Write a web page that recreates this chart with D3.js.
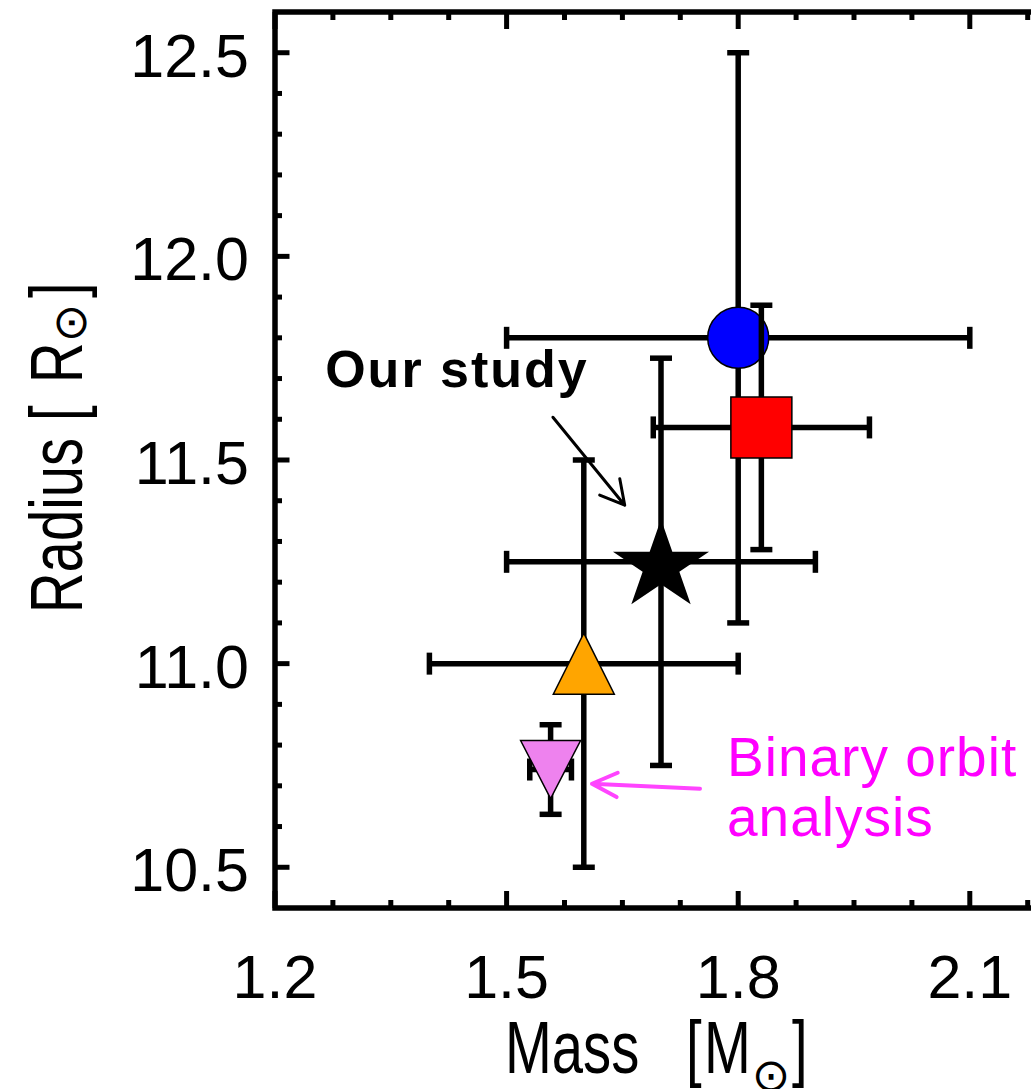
<!DOCTYPE html>
<html>
<head>
<meta charset="utf-8">
<script src="https://cdn.jsdelivr.net/npm/d3@7"></script>
<style>
  html, body { margin: 0; padding: 0; background: #fff; }
  svg { display: block; }
</style>
</head>
<body>
<svg id="chart" width="1031" height="1089"></svg>
<script>
// Mass–radius estimates with 1-sigma error bars
const mass        = [1.80, 1.83, 1.70, 1.60, 1.557];
const massErr     = [0.30, 0.14, 0.20, 0.20, 0.027];
const radius      = [11.80, 11.58, 11.25, 11.00, 10.74];
const radiusErr   = [0.70, 0.30, 0.50, 0.50, 0.11];
const symbols     = ["circle", "square", "star", "triangleUp", "triangleDown"];
const fills       = ["#0000ff", "#ff0000", "#000000", "#ffa500", "#ee82ee"];

// Axis ranges and tick values
const massDomain   = [1.2, 2.2];
const radiusDomain = [10.4, 12.6];
const massMajor    = [1.2, 1.5, 1.8, 2.1];
const massMinor    = [1.275, 1.35, 1.425, 1.575, 1.65, 1.725, 1.875, 1.95, 2.025, 2.175];
const radiusMajor  = [10.5, 11.0, 11.5, 12.0, 12.5];
const radiusMinor  = [10.6, 10.7, 10.8, 10.9, 11.1, 11.2, 11.3, 11.4, 11.6, 11.7, 11.8, 11.9, 12.1, 12.2, 12.3, 12.4];

// Annotation anchors (data units)
const studyLabel  = {text: "Our study", mass: 1.265, radius: 11.679};
const studyArrow  = {from: [1.560, 11.605], to: [1.653, 11.389]};
const orbitLabel  = {lines: ["Binary orbit", "analysis"], mass: 1.7855, radius: [10.725, 10.578]};
const orbitArrow  = {from: [1.7505, 10.693], to: [1.6106, 10.705]};

const svg = d3.select("#chart");
const plotL = 275, plotR = 1047, plotT = 12, plotB = 908;

const x = d3.scaleLinear().domain(massDomain).range([plotL, plotR]);
const y = d3.scaleLinear().domain(radiusDomain).range([plotB, plotT]);

const FONT = "'Liberation Sans', Arial, Helvetica, sans-serif";
const SYMFONT = "'DejaVu Sans', sans-serif";
const LW = 5.5;

// ---- frame and ticks ----
const axes = svg.append("g");
axes.append("rect")
  .attr("x", plotL).attr("y", plotT)
  .attr("width", plotR - plotL).attr("height", plotB - plotT)
  .attr("fill", "none").attr("stroke", "#000").attr("stroke-width", LW);

function xTicks(vals, len) {
  vals.forEach(v => {
    axes.append("line").attr("x1", x(v)).attr("x2", x(v))
      .attr("y1", plotB).attr("y2", plotB - len)
      .attr("stroke", "#000").attr("stroke-width", 5);
    axes.append("line").attr("x1", x(v)).attr("x2", x(v))
      .attr("y1", plotT).attr("y2", plotT + len)
      .attr("stroke", "#000").attr("stroke-width", 5);
  });
}
function yTicks(vals, len) {
  vals.forEach(v => {
    axes.append("line").attr("y1", y(v)).attr("y2", y(v))
      .attr("x1", plotL).attr("x2", plotL + len)
      .attr("stroke", "#000").attr("stroke-width", 5);
    axes.append("line").attr("y1", y(v)).attr("y2", y(v))
      .attr("x1", plotR).attr("x2", plotR - len)
      .attr("stroke", "#000").attr("stroke-width", 5);
  });
}
xTicks(massMajor, 17);
xTicks(massMinor, 8);
yTicks(radiusMajor, 14.5);
yTicks(radiusMinor, 7);

const fmt = d3.format(".1f");
axes.selectAll("text.xl").data(massMajor).join("text")
  .attr("class", "xl")
  .attr("x", d => x(d)).attr("y", 998)
  .attr("text-anchor", "middle")
  .attr("font-family", FONT).attr("font-size", 61)
  .text(fmt);
axes.selectAll("text.yl").data(radiusMajor).join("text")
  .attr("class", "yl")
  .attr("x", 249).attr("y", d => y(d) + 24)
  .attr("text-anchor", "end")
  .attr("font-family", FONT).attr("font-size", 61)
  .text(fmt);

// ---- axis titles (narrowed glyphs, solar symbol as subscript) ----
const TS = 74, SX = 0.76;
function titlePiece(g, str, tx, ty, rot) {
  g.append("text")
    .attr("transform", `translate(${tx},${ty})${rot ? " rotate(-90)" : ""} scale(${SX},1)`)
    .attr("font-family", FONT).attr("font-size", TS)
    .text(str);
}
function solarSymbol(g, tx, ty, rot, size) {
  g.append("text")
    .attr("transform", `translate(${tx},${ty})${rot ? " rotate(-90)" : ""}`)
    .attr("text-anchor", "middle")
    .attr("font-family", SYMFONT).attr("font-size", size)
    .text("\u2299");
}
const xt = svg.append("g");
titlePiece(xt, "Mass", 505, 1073, false);
titlePiece(xt, "[", 686, 1073, false);
titlePiece(xt, "M", 704, 1073, false);
solarSymbol(xt, 771, 1091, false, 46);
titlePiece(xt, "]", 792, 1073, false);

const yt = svg.append("g");
titlePiece(yt, "Radius", 82, 613, true);
titlePiece(yt, "[", 82, 421, true);
titlePiece(yt, "R", 82, 383, true);
solarSymbol(yt, 86, 323, true, 46);
titlePiece(yt, "]", 82, 298, true);

// ---- symbols ----
function starPath(rx, ry, inner) {
  const pts = [];
  for (let i = 0; i < 10; i++) {
    const a = -Math.PI / 2 + i * Math.PI / 5;
    const r = i % 2 === 0 ? 1 : inner;
    pts.push([rx * r * Math.cos(a), ry * r * Math.sin(a)]);
  }
  const shift = (1 - Math.cos(Math.PI / 5)) * ry / 2;
  return d3.line()(pts.map(p => [p[0], p[1] + shift])) + "Z";
}
function symbolPath(kind) {
  switch (kind) {
    case "circle": {
      const p = d3.path(); p.arc(0, 0, 30.5, 0, 2 * Math.PI); p.closePath(); return p.toString();
    }
    case "square":       return "M-30.5,-30.5H30.5V30.5H-30.5Z";
    case "star":         return starPath(50.5, 47, 0.382);
    case "triangleUp":   return "M0,-30.5L30.5,30.5L-30.5,30.5Z";
    case "triangleDown": return "M-30,-29L30,-29L0,29Z";
  }
}

const plot = svg.append("g");
const CAP = 11;
mass.forEach((m, i) => {
  const g = plot.append("g");
  const cx = x(m), cy = y(radius[i]);
  const x0 = x(m - massErr[i]), x1 = x(m + massErr[i]);
  const y0 = y(radius[i] - radiusErr[i]), y1 = y(radius[i] + radiusErr[i]);
  const seg = (a, b, c, d) => g.append("line")
    .attr("x1", a).attr("y1", b).attr("x2", c).attr("y2", d)
    .attr("stroke", "#000").attr("stroke-width", LW);
  seg(x0, cy, x1, cy);
  seg(x0, cy - CAP, x0, cy + CAP);
  seg(x1, cy - CAP, x1, cy + CAP);
  seg(cx, y0, cx, y1);
  seg(cx - CAP, y0, cx + CAP, y0);
  seg(cx - CAP, y1, cx + CAP, y1);
  g.append("path")
    .attr("d", symbolPath(symbols[i]))
    .attr("transform", `translate(${cx},${cy})`)
    .attr("fill", fills[i])
    .attr("stroke", "#000").attr("stroke-width", symbols[i] === "star" ? 0 : 1.5);
});

// ---- annotations ----
function arrow(sel, from, to, color, width, armLen, armAng) {
  const fx = x(from[0]), fy = y(from[1]), tx = x(to[0]), ty = y(to[1]);
  const ang = Math.atan2(fy - ty, fx - tx);
  const a1 = [tx + armLen * Math.cos(ang + armAng), ty + armLen * Math.sin(ang + armAng)];
  const a2 = [tx + armLen * Math.cos(ang - armAng), ty + armLen * Math.sin(ang - armAng)];
  sel.append("path")
    .attr("d", `M${fx},${fy}L${tx},${ty}M${a1[0]},${a1[1]}L${tx},${ty}L${a2[0]},${a2[1]}`)
    .attr("fill", "none").attr("stroke", color).attr("stroke-width", width)
    .attr("stroke-linecap", "round").attr("stroke-linejoin", "round");
}

const ann = svg.append("g");
ann.append("text")
  .attr("x", x(studyLabel.mass)).attr("y", y(studyLabel.radius))
  .attr("font-family", FONT).attr("font-weight", "bold").attr("font-size", 52)
  .attr("letter-spacing", 2)
  .text(studyLabel.text);
arrow(ann, studyArrow.from, studyArrow.to, "#000", 3, 27, 0.5);

orbitLabel.lines.forEach((t, k) => {
  ann.append("text")
    .attr("x", x(orbitLabel.mass)).attr("y", y(orbitLabel.radius[k]))
    .attr("font-family", FONT).attr("font-size", 55)
    .attr("letter-spacing", 1)
    .attr("fill", "#ff00ff")
    .text(t);
});
arrow(ann, orbitArrow.from, orbitArrow.to, "#ff44ff", 4, 28, 0.45);
</script>
</body>
</html>
